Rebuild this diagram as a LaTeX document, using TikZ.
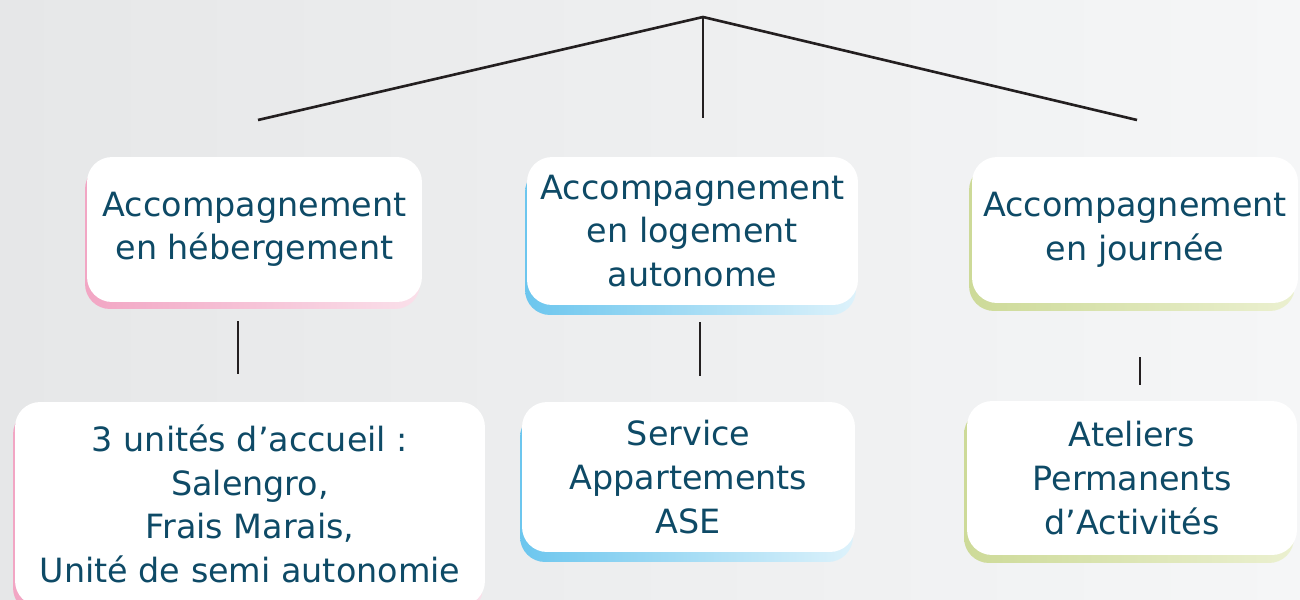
\documentclass[tikz,border=0pt]{standalone}
\usepackage{fontspec}
\setmainfont{DejaVu Sans}
\usetikzlibrary{shadows}
\definecolor{inktext}{HTML}{0E4A66}
\definecolor{inkline}{HTML}{231F20}
\definecolor{bgleft}{HTML}{E6E7E8}
\definecolor{bgright}{HTML}{F5F6F7}
\definecolor{hebdark}{HTML}{F2A6C4}
\definecolor{heblight}{HTML}{FAE0EA}
\definecolor{logdark}{HTML}{6CC6EE}
\definecolor{loglight}{HTML}{DDF2FB}
\definecolor{jourdark}{HTML}{CDDA98}
\definecolor{jourlight}{HTML}{EBF0D0}

\begin{document}
\begin{tikzpicture}[x=0.02cm, y=-0.02cm,
  link/.style={draw=inkline, line width=1.5pt},
  card/.style={fill=white, rounded corners=0.5cm, inner sep=2pt,
    align=center, text=inktext,
    font=\fontsize{19}{24.8}\selectfont},
  hebcard/.style={card, general shadow={shadow xshift=-0.04cm, shadow yshift=-0.14cm,
    left color=hebdark, right color=heblight}},
  logcard/.style={card, general shadow={shadow xshift=-0.04cm, shadow yshift=-0.2cm,
    left color=logdark, right color=loglight}},
  jourcard/.style={card, general shadow={shadow xshift=-0.06cm, shadow yshift=-0.16cm,
    left color=jourdark, right color=jourlight}}]
% fond
\shade[left color=bgleft, right color=bgright] (0,0) rectangle (1300,599);
\useasboundingbox (0,0) rectangle (1300,599);
\clip (0,0) rectangle (1300,599);

% premier niveau
\node[hebcard, minimum width=6.7cm, minimum height=2.9cm] (heb) at (254.5,229.5)
  {Accompagnement\\en hébergement};
\node[logcard, minimum width=6.62cm, minimum height=2.96cm] (log) at (692.5,231)
  {Accompagnement\\en logement\\autonome};
\node[jourcard, minimum width=6.52cm, minimum height=2.92cm] (jour) at (1135,230)
  {Accompagnement\\en journée};

% second niveau
\node[hebcard, minimum width=9.4cm, minimum height=4.08cm] (unites) at (250,504)
  {3 unités d’accueil :\\Salengro,\\Frais Marais,\\Unité de semi autonomie};
\node[logcard, minimum width=6.66cm, minimum height=3cm] (appart) at (688.5,477)
  {Service\\Appartements\\ASE};
\node[jourcard, minimum width=6.6cm, minimum height=3.08cm] (ateliers) at (1132,478)
  {Ateliers\\Permanents\\d’Activités};

% traits
\coordinate (top) at (703,17);
\coordinate (topL) at (258,120);
\coordinate (topM) at (703,118);
\coordinate (topR) at (1137,120);
\draw[link] (topL) -- (top) -- (topR);
\draw[link] (top) -- (topM);

\coordinate (hebA) at (238,321);
\coordinate (hebB) at (238,374);
\coordinate (logA) at (700,322);
\coordinate (logB) at (700,376);
\coordinate (jourA) at (1140,357);
\coordinate (jourB) at (1140,385);
\draw[link] (hebA) -- (hebB);
\draw[link] (logA) -- (logB);
\draw[link] (jourA) -- (jourB);
\end{tikzpicture}
\end{document}
